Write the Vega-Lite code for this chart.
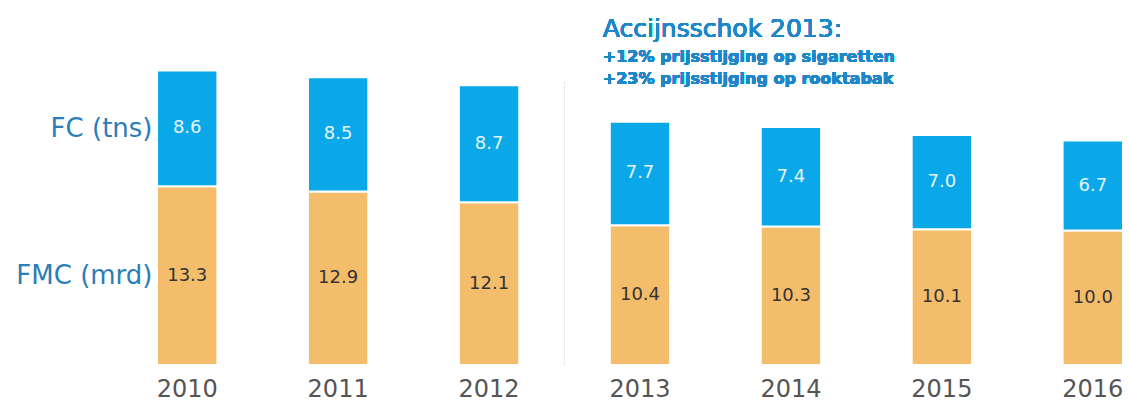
{
  "$schema": "https://vega.github.io/schema/vega-lite/v6.json",
  "width": 972,
  "height": 363,
  "padding": {"left": 15, "top": 2, "right": 3, "bottom": 0},
  "background": "white",
  "config": {"view": {"stroke": null}, "font": "DejaVu Sans"},
  "data": {
    "values": [
      {"year": "2010", "series": "FMC", "value": 13.3},
      {"year": "2010", "series": "FC", "value": 8.6},
      {"year": "2011", "series": "FMC", "value": 12.9},
      {"year": "2011", "series": "FC", "value": 8.5},
      {"year": "2012", "series": "FMC", "value": 12.1},
      {"year": "2012", "series": "FC", "value": 8.7},
      {"year": "2013", "series": "FMC", "value": 10.4},
      {"year": "2013", "series": "FC", "value": 7.7},
      {"year": "2014", "series": "FMC", "value": 10.3},
      {"year": "2014", "series": "FC", "value": 7.4},
      {"year": "2015", "series": "FMC", "value": 10.1},
      {"year": "2015", "series": "FC", "value": 7.0},
      {"year": "2016", "series": "FMC", "value": 10.0},
      {"year": "2016", "series": "FC", "value": 6.7}
    ]
  },
  "encoding": {
    "x": {
      "field": "year",
      "type": "nominal",
      "scale": {"paddingInner": 0.6, "paddingOuter": 0.02},
      "axis": {
        "title": null,
        "labelAngle": 0,
        "ticks": false,
        "domain": false,
        "labelFont": "DejaVu Sans",
        "labelFontSize": 24,
        "labelColor": "#555555",
        "labelPadding": 12
      }
    }
  },
  "layer": [
    {
      "mark": {"type": "rule", "color": "#e4e4e4", "strokeWidth": 1, "strokeDash": [2, 2]},
      "encoding": {
        "x": {"datum": "2012", "bandPosition": 1.75},
        "y": {"datum": 21},
        "y2": {"datum": 0}
      }
    },
    {
      "mark": {"type": "bar", "stroke": "white", "strokeWidth": 2},
      "encoding": {
        "y": {
          "field": "value",
          "type": "quantitative",
          "stack": "zero",
          "scale": {"domain": [0, 27], "nice": false},
          "axis": {
            "values": [6.65, 17.6],
            "labelExpr": "datum.value < 10 ? 'FMC (mrd)' : 'FC (tns)'",
            "ticks": false,
            "domain": false,
            "grid": false,
            "title": null,
            "labelFont": "DejaVu Sans",
            "labelFontSize": 26,
            "labelColor": "#2a7db8",
            "labelPadding": 2
          }
        },
        "order": {"field": "series", "sort": "descending"},
        "color": {
          "field": "series",
          "type": "nominal",
          "scale": {"domain": ["FMC", "FC"], "range": ["#f4bd6c", "#0aa8e8"]},
          "legend": null
        }
      }
    },
    {
      "mark": {"type": "text", "fontSize": 18, "font": "DejaVu Sans", "baseline": "middle"},
      "encoding": {
        "y": {"field": "value", "type": "quantitative", "stack": "zero", "bandPosition": 0.5},
        "order": {"field": "series", "sort": "descending"},
        "text": {"field": "value", "type": "quantitative", "format": ".1f"},
        "color": {
          "condition": {"test": "datum.series == 'FC'", "value": "#e4f4fc"},
          "value": "#333333"
        }
      }
    },
    {
      "mark": {"type": "text", "align": "left", "baseline": "alphabetic", "dx": -7, "fontSize": 25, "font": "DejaVu Sans", "color": "#1d88c9"},
      "encoding": {
        "x": {"datum": "2013", "bandPosition": 0},
        "y": {"datum": 24.4},
        "text": {"value": "Accijnsschok 2013:"}
      }
    },
    {
      "mark": {"type": "text", "align": "left", "baseline": "alphabetic", "dx": -7, "fontSize": 16, "fontWeight": "bold", "font": "DejaVu Sans", "color": "#1d88c9"},
      "encoding": {
        "x": {"datum": "2013", "bandPosition": 0},
        "y": {"datum": 22.54},
        "text": {"value": "+12% prijsstijging op sigaretten"}
      }
    },
    {
      "mark": {"type": "text", "align": "left", "baseline": "alphabetic", "dx": -7, "fontSize": 16, "fontWeight": "bold", "font": "DejaVu Sans", "color": "#1d88c9"},
      "encoding": {
        "x": {"datum": "2013", "bandPosition": 0},
        "y": {"datum": 20.9},
        "text": {"value": "+23% prijsstijging op rooktabak"}
      }
    }
  ]
}
